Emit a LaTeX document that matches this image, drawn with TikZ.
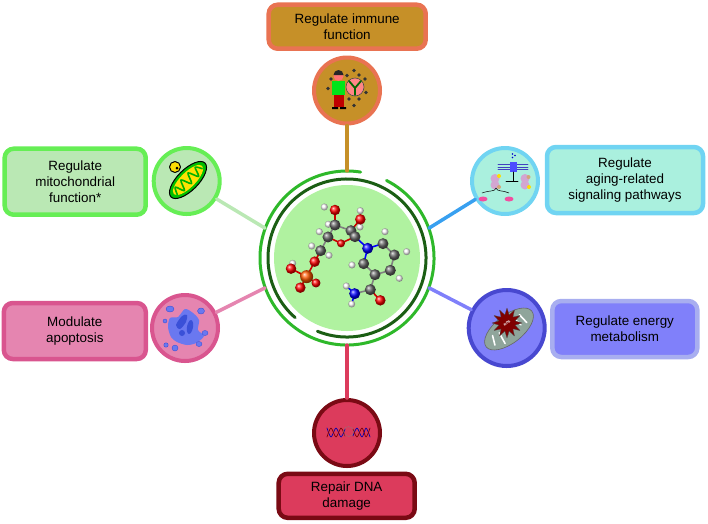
\documentclass[tikz,border=0pt]{standalone}
\usepackage{fontspec}
\setmainfont{Liberation Sans}
\usetikzlibrary{shapes.geometric}
\definecolor{immfill}{HTML}{C69028}
\definecolor{immline}{HTML}{E97352}
\definecolor{mitfill}{HTML}{BAE8B4}
\definecolor{mitline}{HTML}{66EE55}
\definecolor{sigfill}{HTML}{AAF0DE}
\definecolor{sigline}{HTML}{70D4F2}
\definecolor{siglink}{HTML}{38A0F0}
\definecolor{enefill}{HTML}{8080FA}
\definecolor{eneline}{HTML}{A8AEF0}
\definecolor{enering}{HTML}{4848D0}
\definecolor{apofill}{HTML}{E585B0}
\definecolor{apoline}{HTML}{D9558F}
\definecolor{dnafill}{HTML}{DC3B5C}
\definecolor{dnaline}{HTML}{7A0A14}
\definecolor{hubfill}{HTML}{B0F2A0}
\definecolor{hubring}{HTML}{2EB82A}
\definecolor{hubdark}{HTML}{1B5E14}
\definecolor{cellblue}{HTML}{6A78F0}
\definecolor{celldark}{HTML}{3A50D8}
\definecolor{rosgray}{HTML}{8FA59B}

\tikzset{
  tagbox/.style={draw,rectangle,rounded corners=9pt,line width=4.5pt,align=center,
    text=black,font=\fontsize{13.4}{16}\selectfont},
  satnode/.style={draw,circle,inner sep=0pt,line width=4pt,minimum size=66pt},
  linkline/.style={line width=3.5pt},
  catom/.style={circle,inner sep=0pt,minimum size=11pt,ball color=gray!80!black},
  hatom/.style={circle,inner sep=0pt,minimum size=7pt,ball color=white},
  oatom/.style={circle,inner sep=0pt,minimum size=10.5pt,ball color=red},
  natom/.style={circle,inner sep=0pt,minimum size=11pt,ball color=blue},
  patom/.style={circle,inner sep=0pt,minimum size=13pt,ball color=orange!70!red},
  bond/.style={line width=1.6pt,color=gray},
  obond/.style={line width=1.6pt,color=red!80!black},
  spot/.style={fill=black!80,radius=1.8pt},
}

\begin{document}
\begin{tikzpicture}[x=1pt,y=-1pt,line cap=round,line join=round]
      \useasboundingbox (0,0) rectangle (708,523);
      % centre
      \node [circle,inner sep=0pt,minimum size=174pt] (hub) at (347,258) {};
      \fill [hubfill] (hub.center) circle (73pt);
      \draw [hubring,line width=3pt] (hub.center) ++(63:87pt) arc (63:-279:87pt);
      \draw [hubdark,line width=3pt] (hub.center) ++(248:79pt) arc (248:589:79pt);
      % boxes
      \node [tagbox,fill=immfill,draw=immline,minimum width=157pt,minimum height=44pt] (immbox) at (347.2,26.7) {Regulate immune\\function};
      \node [tagbox,fill=mitfill,draw=mitline,minimum width=141pt,minimum height=66pt] (mitbox) at (75.2,181.7) {Regulate\\mitochondrial\\function*};
      \node [tagbox,fill=sigfill,draw=sigline,minimum width=156pt,minimum height=66pt] (sigbox) at (625,180) {Regulate\\aging-related\\signaling pathways};
      \node [tagbox,fill=enefill,draw=eneline,minimum width=145pt,minimum height=56pt] (enebox) at (624.8,329) {Regulate energy\\metabolism};
      \node [tagbox,fill=apofill,draw=apoline,minimum width=142pt,minimum height=56pt] (apobox) at (74.8,331) {Modulate\\apoptosis};
      \node [tagbox,fill=dnafill,draw=dnaline,minimum width=136pt,minimum height=44pt] (dnabox) at (346.7,495.8) {Repair DNA\\damage};
      % circles
      \node [satnode,fill=immfill,draw=immline] (immsat) at (347,90.5) {};
      \node [satnode,fill=mitfill,draw=mitline] (mitsat) at (186.7,181) {};
      \node [satnode,fill=sigfill,draw=sigline] (sigsat) at (505,181) {};
      \node [satnode,fill=enefill,draw=enering,minimum size=76pt] (enesat) at (506.7,328) {};
      \node [satnode,fill=apofill,draw=apoline] (aposat) at (185,328) {};
      \node [satnode,fill=dnafill,draw=dnaline] (dnasat) at (347,433) {};
      % links
      \draw [linkline,immfill] (hub.north) -- (immsat);
      \draw [linkline,mitfill] (hub.160) -- (mitsat);
      \draw [linkline,siglink] (hub.20) -- (sigsat);
      \draw [linkline,enefill] (hub.-20) -- (enesat);
      \draw [linkline,apofill] (hub.200) -- (aposat);
      \draw [linkline,dnafill] (hub.south) -- (dnasat);
      % molecule
      \begin{scope}[shift={(240,130)},x=0.3333pt,y=-0.3333pt]
      \node [hatom] (h1) at (253,231) {};
      \node [hatom] (h2) at (361,242) {};
      \node [hatom] (h3) at (360,291) {};
      \node [hatom] (h4) at (265,283) {};
      \node [hatom] (h5) at (238,305) {};
      \node [hatom] (h6) at (215,348) {};
      \node [hatom] (h7) at (267,376) {};
      \node [hatom] (h8) at (158,400) {};
      \node [hatom] (h9) at (435,305) {};
      \node [hatom] (h10) at (500,365) {};
      \node [hatom] (h11) at (478,445) {};
      \node [hatom] (h12) at (336,405) {};
      \node [hatom] (h13) at (319,468) {};
      \node [hatom] (h14) at (335,522) {};
      \coordinate (c1) at (285,285);
      \coordinate (c2) at (333,302);
      \coordinate (c3) at (345,320);
      \coordinate (c4) at (264,321);
      \coordinate (c5) at (242,362);
      \coordinate (c6) at (429,341);
      \coordinate (c7) at (463,375);
      \coordinate (c8) at (451,421);
      \coordinate (c9) at (405,434);
      \coordinate (c10) at (371,401);
      \coordinate (c11) at (391,479);
      \coordinate (o1) at (285,240);
      \coordinate (o2) at (361,268);
      \coordinate (o3) at (303,340);
      \coordinate (o4) at (224,395);
      \coordinate (o5) at (153,416);
      \coordinate (o6) at (181,473);
      \coordinate (o7) at (228,459);
      \coordinate (o8) at (421,511);
      \coordinate (p1) at (200,440);
      \coordinate (n1) at (383,355);
      \coordinate (n2) at (344,491);
      \draw [bond] (c1) -- (c2) -- (c3) (c1) -- (c4) -- (c5) (c6) -- (c7) -- (c8) -- (c9) -- (c10);
      \draw [bond] (c9) -- (c11) (c11) -- (n2);
      \draw [obond] (o1) -- (c1) (o2) -- (c2) (c3) -- (o3) -- (c4) (c5) -- (o4) -- (p1);
      \draw [obond] (p1) -- (o5) (p1) -- (o6) (p1) -- (o7) (c11) -- (o8);
      \draw [blue,line width=1.6pt] (c3) -- (n1) -- (c6) (n1) -- (c10) (h13) -- (n2) -- (h14);
      \node [oatom,minimum size=9pt] (a7) at (o7) {};
      \node [patom] (a0) at (p1) {};
      \node [oatom] (a1) at (o1) {};
      \node [oatom] (a2) at (o2) {};
      \node [oatom,minimum size=8pt] (a3) at (o3) {};
      \node [oatom] (a4) at (o4) {};
      \node [oatom] (a5) at (o5) {};
      \node [oatom] (a6) at (o6) {};
      \node [oatom] (a8) at (o8) {};
      \node [catom] (b1) at (c1) {};
      \node [catom] (b2) at (c2) {};
      \node [catom] (b3) at (c3) {};
      \node [catom] (b4) at (c4) {};
      \node [catom] (b5) at (c5) {};
      \node [catom] (b6) at (c6) {};
      \node [catom] (b7) at (c7) {};
      \node [catom] (b8) at (c8) {};
      \node [catom] (b9) at (c9) {};
      \node [catom] (b10) at (c10) {};
      \node [catom] (b11) at (c11) {};
      \node [natom] (d1) at (n1) {};
      \node [natom] (d2) at (n2) {};
      \end{scope}
      % immune icon
      \fill [pink!70!red] (355,87) circle (9pt);
      \draw [black!70,line width=.6pt] (355,87) circle (9pt);
      \draw [green!40!black,line width=1.8pt] (349,81) -- (355,88) -- (361,81) (355,88) -- (355,95);
      \fill [green!80!teal] (332,81) rectangle (345,95);
      \fill [red!75!black] (334,95) rectangle (344,107);
      \fill [black] (332,107) rectangle (338,109) (340,107) rectangle (346,109);
      \fill [pink!60!red] (338.5,76) circle (5pt);
      \fill [black!85] (333.5,75) arc (180:0:5pt) -- cycle;
      \fill [spot] (328,88.5) circle;
      \fill [spot] (331,79) circle;
      \fill [spot] (347,75.5) circle;
      \fill [spot] (354,70.5) circle;
      \fill [spot] (359,75) circle;
      \fill [spot] (365,79) circle;
      \fill [spot] (366,92.5) circle;
      \fill [spot] (349,99) circle;
      \fill [spot] (359,99) circle;
      \fill [spot] (354,105.5) circle;
      % mitochondrion icon
      \draw [black,fill=yellow!80!orange,line width=1pt] (175,167) circle (5.5pt);
      \fill [black] (177,168) circle (1.5pt);
      \begin{scope}[shift={(188,180)},rotate=45,x=1pt,y=1pt]
      \draw [black,fill=green!75!black,line width=1pt] (0,0) ellipse (24pt and 10.5pt);
      \fill [yellow!85!orange] (0,0) ellipse (20pt and 7.5pt);
      \draw [green!70!black,line width=1.6pt] plot [smooth] coordinates {(-18,-3) (-14,4) (-10,-5) (-5,5) (0,-5) (5,5) (10,-5) (14,4) (18,-2)};
      \end{scope}
      % signaling icon
      \draw [blue!50!gray,line width=.8pt] (498,164.5) -- (528,164.5) (498,167) -- (528,167) (498,169.5) -- (528,169.5);
      \fill [blue!70] (510,162) rectangle (517,172);
      \fill [blue!80!black] (512.5,154) circle (.8pt) (515,155.5) circle (.8pt) (512.5,157.5) circle (.8pt);
      \draw [black,line width=.6pt] (513.5,172) -- (513.5,181.5) (506,181.5) -- (518,181.5);
      \fill [violet!35!white] (495,178.5) circle (4.5pt) (495,185) circle (4.5pt);
      \fill [yellow!80!orange] (499,176) circle (2pt);
      \fill [brown!70] (499,187) circle (2pt);
      \fill [violet!35!white] (525,178.5) circle (4.5pt) (525,185) circle (4.5pt);
      \fill [brown!70] (528.5,177) circle (2pt);
      \fill [yellow!80!orange] (529,187) circle (2pt);
      \draw [black,line width=.5pt] (482,193) .. controls (490,190) and (495,192) .. (496,188) .. controls (497,192) and (503,190) .. (509,193);
      \fill [magenta!60!pink] (483,199) ellipse (4.5pt and 2.5pt) (509,199) ellipse (4.5pt and 2.5pt);
      % energy icon
      \begin{scope}[shift={(509,329)},rotate=38,x=1pt,y=1pt]
      \draw [black!60,fill=rosgray,line width=.6pt] (0,0) ellipse (29pt and 14pt);
      \draw [white,line width=1.6pt] (-21,-4) -- (-17,5) (-12,-9) -- (-10,3) (12,-4) -- (10,8) (18,-6) -- (17,5) (5,6) -- (4,-3);
      \end{scope}
      \node [star,star points=12,star point ratio=1.8,fill=red!50!black,draw=black!70,line width=.3pt,inner sep=0pt,minimum size=30pt] (rosstar) at (507,323) {};
      \node [white,rotate=38,font=\fontsize{3.5}{4}\bfseries\selectfont,inner sep=0pt] (roslabel) at (rosstar) {ROS};
      % apoptosis icon
      \fill [cellblue] plot [smooth cycle] coordinates {(170,318) (178,317) (185,309) (193,313) (199,320) (198,330) (204,336) (196,343) (187,345) (177,342) (171,337) (168,327)};
      \fill [celldark] plot [smooth cycle] coordinates {(176,325) (182,316) (187,315) (186,322) (180,329)};
      \fill [celldark,rotate around={80:(190,327)}] (190,327) ellipse (7pt and 3pt);
      \fill [celldark] (182,333) circle (3pt);
      \fill [cellblue,draw=celldark,line width=.4pt] (170,309) ellipse (4pt and 3pt) (201,311) ellipse (3.5pt and 3pt) (165,321) circle (2pt) (205,333) ellipse (3pt and 2.5pt) (166,345) circle (2.2pt) (175,348) ellipse (3pt and 3pt) (199,344) ellipse (3pt and 2.5pt);
      % dna icon
      \draw [blue!70!black,line width=.7pt] plot [smooth] coordinates {(327,428) (331,437) (336,428) (341,437) (345,429)};
      \draw [red!50!black,line width=.7pt] plot [smooth] coordinates {(327,437) (331,428) (336,437) (341,428) (345,436)};
      \draw [blue!70!black,line width=.7pt] plot [smooth] coordinates {(353,436) (357,428) (362,437) (366,428) (370,437)};
      \draw [red!50!black,line width=.7pt] plot [smooth] coordinates {(353,429) (357,437) (362,428) (366,437) (370,428)};
      \draw [gray,densely dotted,line width=.5pt] (348.5,431.5) circle (5pt);
\end{tikzpicture}
\end{document}
